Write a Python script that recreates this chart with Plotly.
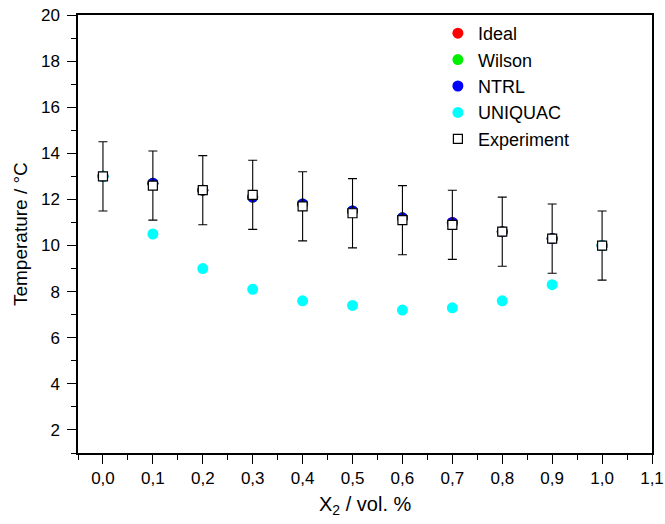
import plotly.graph_objects as go

x_vals = [0.0, 0.1, 0.2, 0.3, 0.4, 0.5, 0.6, 0.7, 0.8, 0.9, 1.0]
ideal = [13.0, 12.7, 12.4, 12.1, 11.8, 11.5, 11.2, 11.0, 10.6, 10.3, 10.0]
wilson = [13.0, 12.7, 12.4, 12.1, 11.8, 11.5, 11.2, 10.95, 10.6, 10.3, 10.0]
ntrl = [13.0, 12.7, 12.4, 12.1, 11.8, 11.5, 11.2, 11.0, 10.6, 10.3, 10.0]
uniquac = [13.0, 10.5, 9.0, 8.1, 7.6, 7.4, 7.2, 7.3, 7.6, 8.3, 10.0]
experiment = [13.0, 12.6, 12.4, 12.2, 11.7, 11.4, 11.1, 10.9, 10.6, 10.3, 10.0]
exp_err = [1.5] * 11
x_ticks = [0.0, 0.1, 0.2, 0.3, 0.4, 0.5, 0.6, 0.7, 0.8, 0.9, 1.0, 1.1]
x_tick_labels = ["0,0", "0,1", "0,2", "0,3", "0,4", "0,5", "0,6", "0,7", "0,8", "0,9", "1,0", "1,1"]
y_ticks = [2, 4, 6, 8, 10, 12, 14, 16, 18, 20]

FONT = "Liberation Sans, Arial, sans-serif"

fig = go.Figure()
fig.add_trace(go.Scatter(x=x_vals, y=ideal, mode="markers", name="Ideal",
                         marker=dict(symbol="circle", size=11, color="#ff0000")))
fig.add_trace(go.Scatter(x=x_vals, y=wilson, mode="markers", name="Wilson",
                         marker=dict(symbol="circle", size=11, color="#00ee00")))
fig.add_trace(go.Scatter(x=x_vals, y=ntrl, mode="markers", name="NTRL",
                         marker=dict(symbol="circle", size=11, color="#0000ff")))
fig.add_trace(go.Scatter(x=x_vals, y=uniquac, mode="markers", name="UNIQUAC",
                         marker=dict(symbol="circle", size=11, color="#00ffff")))
fig.add_trace(go.Scatter(x=x_vals, y=experiment, mode="markers", name="Experiment",
                         marker=dict(symbol="square", size=9, color="white",
                                     line=dict(color="black", width=1.2)),
                         error_y=dict(type="data", array=exp_err, visible=True,
                                      color="black", thickness=1.1, width=4.5)))

fig.update_layout(
    width=665, height=524,
    paper_bgcolor="white", plot_bgcolor="white",
    margin=dict(l=78, r=13, t=15, b=71, autoexpand=False),
    font=dict(family=FONT, size=17, color="black"),
    showlegend=True,
    legend=dict(x=0.627, y=1.0, xanchor="left", yanchor="top",
                bgcolor="rgba(0,0,0,0)", font=dict(size=18), tracegroupgap=0,
                itemwidth=30),
    annotations=[
        dict(text="Temperature / °C", xref="paper", yref="paper", x=-0.101, y=0.5,
             xanchor="center", yanchor="middle", textangle=-90, showarrow=False,
             font=dict(size=19)),
        dict(text="X<sub>2</sub> / vol. %", xref="paper", yref="paper", x=0.5, y=-0.119,
             xanchor="center", yanchor="middle", showarrow=False,
             font=dict(size=20)),
    ],
)
fig.update_xaxes(
    range=[-0.05, 1.1], tickvals=x_ticks, ticktext=x_tick_labels,
    ticks="outside", ticklen=9, tickwidth=1.2, tickcolor="black",
    minor=dict(dtick=0.05, tick0=0, ticks="outside", ticklen=5, tickcolor="black", tickwidth=1.2),
    showline=True, linecolor="black", linewidth=1.5, mirror=True,
    showgrid=False, zeroline=False, automargin=False,
    tickfont=dict(size=17), ticklabeloverflow="allow",
)
fig.update_yaxes(
    range=[1, 20], tickvals=y_ticks,
    ticks="outside", ticklen=9, tickwidth=1.2, tickcolor="black",
    minor=dict(dtick=1, tick0=1, ticks="outside", ticklen=5, tickcolor="black", tickwidth=1.2),
    showline=True, linecolor="black", linewidth=1.5, mirror=True,
    showgrid=False, zeroline=False, automargin=False,
    tickfont=dict(size=17), ticklabelstandoff=4, ticklabeloverflow="allow",
)

fig.write_html("out.html", config={"displayModeBar": False},
               post_script="document.body.style.margin='0';")
